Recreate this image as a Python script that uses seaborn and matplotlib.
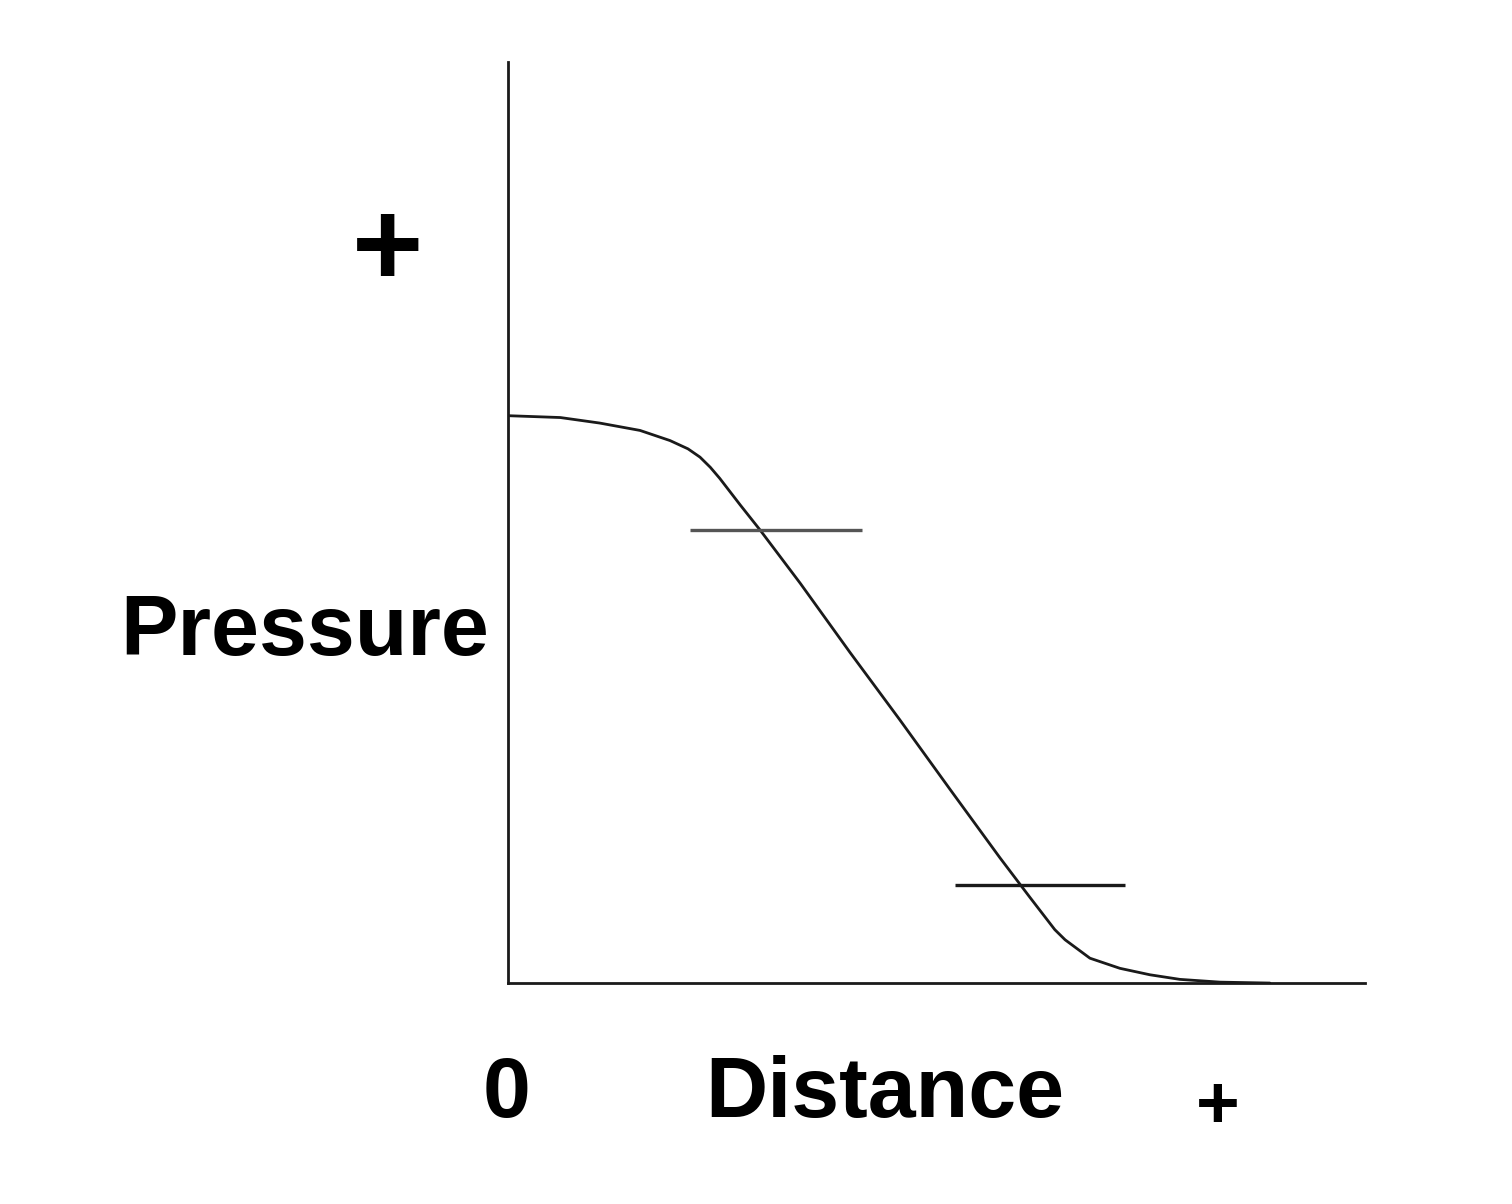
import numpy as np
import pandas as pd
import matplotlib
matplotlib.use("Agg")
import matplotlib.pyplot as plt
import seaborn as sns

# curva presion vs distancia (escala 0-100)
distance = [0, 6.1, 10.7, 15.4, 18.9, 21.0, 22.4, 23.6, 24.7, 27.1, 29.4, 34.1, 39.9, 45.7,
            51.6, 57.4, 60.9, 63.8, 65.0, 67.9, 71.4, 74.9, 78.4, 83.1, 88.9]
pressure = [61.6, 61.4, 60.8, 60.0, 58.9, 58.0, 57.1, 56.0, 54.8, 51.9, 49.2, 43.4, 35.9, 28.6,
            21.0, 13.6, 9.3, 5.8, 4.7, 2.7, 1.6, 0.9, 0.4, 0.1, 0.0]

# segmentos horizontales de referencia
seg_start = [21.2, 52.2]
seg_end = [41.3, 72.0]
seg_level = [49.2, 10.6]

df = pd.DataFrame({'Distance': distance, 'Pressure': pressure})

sns.set_style("white")
plt.rcParams['font.family'] = ['Liberation Sans', 'DejaVu Sans']

fig = plt.figure(figsize=(15.12, 12.04), dpi=100)
ax = fig.add_axes([0.336, 0.1835, 0.5668, 0.765])

sns.lineplot(data=df, x='Distance', y='Pressure', ax=ax, color='#1a1a1a', linewidth=2.0)
ax.hlines(seg_level, seg_start, seg_end, colors=['#555555', '#1a1a1a'], linewidth=2.4)

ax.set_xlim(0, 100)
ax.set_ylim(0, 100)
ax.set_xticks([])
ax.set_yticks([])
ax.set_xlabel('')
ax.set_ylabel('')
sns.despine(ax=ax, top=True, right=True)
for side in ['left', 'bottom']:
    ax.spines[side].set_color('#1a1a1a')
    ax.spines[side].set_linewidth(2.0)

# textos de los ejes
fig.text(0.256, 0.789, '+', fontsize=88, fontweight='bold', ha='center', va='center', color='black')
fig.text(0.2017, 0.474, 'Pressure', fontsize=62, fontweight='bold', ha='center', va='center', color='black')
fig.text(0.3347, 0.0905, '0', fontsize=62, fontweight='bold', ha='center', va='center', color='black')
fig.text(0.585, 0.0905, 'Distance', fontsize=62, fontweight='bold', ha='center', va='center', color='black')
fig.text(0.8056, 0.079, '+', fontsize=54, fontweight='bold', ha='center', va='center', color='black')

plt.savefig('out.png', dpi=100)
plt.close()
